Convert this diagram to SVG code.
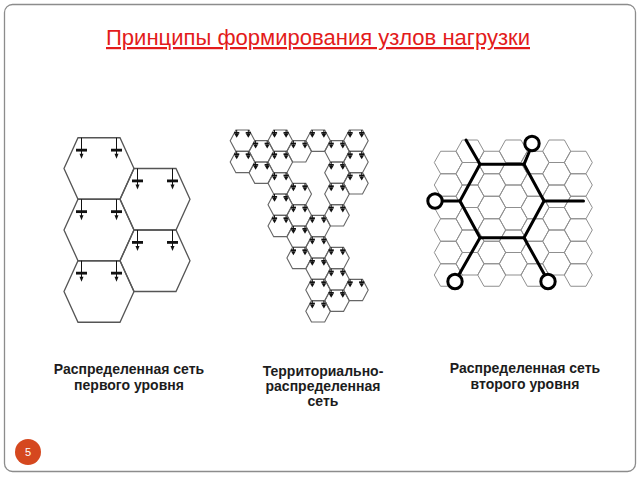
<svg xmlns="http://www.w3.org/2000/svg" xmlns:xlink="http://www.w3.org/1999/xlink" width="640" height="480" viewBox="0 0 640 480">
<style>
.frame{fill:#fff;stroke:#8c8c8c;stroke-width:1.3}
.hL{fill:none;stroke:#555;stroke-width:1.3}
.hM{fill:none;stroke:#666;stroke-width:1.1}
.hR{fill:none;stroke:#8f8f8f;stroke-width:1}
.sym line{stroke:#111;stroke-width:1}
.sym rect,.sym polygon{fill:#111}
.big{fill:none;stroke:#000;stroke-width:3;stroke-linejoin:round;stroke-linecap:round}
.ring{fill:#fff;stroke:#000;stroke-width:3}
.title{font-family:"Liberation Sans",Arial,sans-serif;font-size:22px;fill:#e31b1b;text-decoration:underline}
.lbl{font-family:"Liberation Sans",Arial,sans-serif;font-size:14px;font-weight:bold;fill:#1c1c1c;text-anchor:middle}
</style>
<defs>
<polygon id="hexL" class="hL" points="-21,-30.75 21,-30.75 35,0 21,30.75 -21,30.75 -35,0"/>
<g id="symL" class="sym"><line x1="0" y1="0" x2="0" y2="17"/><rect x="-5.5" y="11" width="11" height="2.8"/><polygon points="-2,16 2,16 0,21"/></g>
<g id="cellL"><use href="#hexL"/><use href="#symL" x="-17.5" y="-30.75"/><use href="#symL" x="17.5" y="-30.75"/></g>
<polygon id="hexM" class="hM" points="-6.6,-10.67 6.6,-10.67 12.3,0 6.6,10.67 -6.6,10.67 -12.3,0"/>
<g id="symM" class="sym"><line x1="0" y1="0" x2="0" y2="4"/><rect x="-2.6" y="2" width="5.2" height="1.7"/><polygon points="-2.4,3.8 2.4,3.8 0,7.8"/></g>
<g id="cellM"><use href="#hexM"/><use href="#symM" x="-5.8" y="-10.67"/><use href="#symM" x="5.8" y="-10.67"/></g>
<polygon id="hexR" class="hR" points="-7.7,-11.25 7.7,-11.25 14,0 7.7,11.25 -7.7,11.25 -14,0"/>
</defs>
<rect class="frame" x="4.5" y="4.5" width="631" height="467" rx="8"/>
<text class="title" x="318" y="45" textLength="424" lengthAdjust="spacingAndGlyphs" text-anchor="middle">Принципы формирования узлов нагрузки</text>

<g id="net1">
<use id="n1a" href="#cellL" x="99" y="168.5"/>
<use id="n1b" href="#cellL" x="155" y="199.25"/>
<use id="n1c" href="#cellL" x="99" y="230"/>
<use id="n1d" href="#cellL" x="155" y="260.75"/>
<use id="n1e" href="#cellL" x="99" y="291.5"/>
</g>

<g id="net2">
<use href="#cellM" x="242.5" y="140.67"/><use href="#cellM" x="242.5" y="162"/>
<use href="#cellM" x="261.4" y="151.33"/><use href="#cellM" x="261.4" y="172.67"/>
<use href="#cellM" x="280.3" y="140.67"/><use href="#cellM" x="280.3" y="162"/><use href="#cellM" x="280.3" y="183.33"/><use href="#cellM" x="280.3" y="204.67"/><use href="#cellM" x="280.3" y="226"/>
<use href="#cellM" x="299.2" y="151.33"/><use href="#cellM" x="299.2" y="194"/><use href="#cellM" x="299.2" y="215.33"/><use href="#cellM" x="299.2" y="236.67"/><use href="#cellM" x="299.2" y="258"/>
<use href="#cellM" x="318.1" y="140.67"/><use href="#cellM" x="318.1" y="226"/><use href="#cellM" x="318.1" y="247.33"/><use href="#cellM" x="318.1" y="268.67"/><use href="#cellM" x="318.1" y="290"/><use href="#cellM" x="318.1" y="311.33"/>
<use href="#cellM" x="337" y="151.33"/><use href="#cellM" x="337" y="172.67"/><use href="#cellM" x="337" y="194"/><use href="#cellM" x="337" y="215.33"/><use href="#cellM" x="337" y="258"/><use href="#cellM" x="337" y="279.33"/><use href="#cellM" x="337" y="300.67"/>
<use href="#cellM" x="355.9" y="140.67"/><use href="#cellM" x="355.9" y="162"/><use href="#cellM" x="355.9" y="183.33"/><use href="#cellM" x="355.9" y="290"/>
</g>

<g id="net3">
<g id="grid3">
<use href="#hexR" x="448.3" y="162.5"/><use href="#hexR" x="448.3" y="185"/><use href="#hexR" x="448.3" y="207.5"/><use href="#hexR" x="448.3" y="230"/><use href="#hexR" x="448.3" y="252.5"/><use href="#hexR" x="448.3" y="275"/>
<use href="#hexR" x="470" y="151.25"/><use href="#hexR" x="470" y="173.75"/><use href="#hexR" x="470" y="196.25"/><use href="#hexR" x="470" y="218.75"/><use href="#hexR" x="470" y="241.25"/><use href="#hexR" x="470" y="263.75"/>
<use href="#hexR" x="491.7" y="162.5"/><use href="#hexR" x="491.7" y="185"/><use href="#hexR" x="491.7" y="207.5"/><use href="#hexR" x="491.7" y="230"/><use href="#hexR" x="491.7" y="252.5"/><use href="#hexR" x="491.7" y="275"/>
<use href="#hexR" x="513.3" y="151.25"/><use href="#hexR" x="513.3" y="173.75"/><use href="#hexR" x="513.3" y="196.25"/><use href="#hexR" x="513.3" y="218.75"/><use href="#hexR" x="513.3" y="241.25"/><use href="#hexR" x="513.3" y="263.75"/>
<use href="#hexR" x="535" y="162.5"/><use href="#hexR" x="535" y="185"/><use href="#hexR" x="535" y="207.5"/><use href="#hexR" x="535" y="230"/><use href="#hexR" x="535" y="252.5"/><use href="#hexR" x="535" y="275"/>
<use href="#hexR" x="556.7" y="151.25"/><use href="#hexR" x="556.7" y="173.75"/><use href="#hexR" x="556.7" y="196.25"/><use href="#hexR" x="556.7" y="218.75"/><use href="#hexR" x="556.7" y="241.25"/><use href="#hexR" x="556.7" y="263.75"/>
<use href="#hexR" x="578.3" y="162.5"/><use href="#hexR" x="578.3" y="185"/><use href="#hexR" x="578.3" y="207.5"/><use href="#hexR" x="578.3" y="230"/><use href="#hexR" x="578.3" y="252.5"/><use href="#hexR" x="578.3" y="275"/>
</g>
<g id="connectors">
<polygon class="big" points="460,201 480,164.3 524,164.3 544,201 524,237.7 480,237.7"/>
<line class="big" x1="480" y1="164.3" x2="466" y2="140"/>
<line class="big" x1="524" y1="164.3" x2="530" y2="150"/>
<line class="big" x1="460" y1="201" x2="442" y2="201"/>
<line class="big" x1="544" y1="201" x2="583.5" y2="201"/>
<line class="big" x1="480" y1="237.7" x2="458.5" y2="275.5"/>
<line class="big" x1="524" y1="237.7" x2="545" y2="275.5"/>
</g>
<circle id="c1" class="ring" cx="532" cy="143.5" r="7.2"/>
<circle id="c2" class="ring" cx="435" cy="201" r="7.2"/>
<circle id="c3" class="ring" cx="455" cy="281.5" r="7.2"/>
<circle id="c4" class="ring" cx="548" cy="281.5" r="7.2"/>
</g>

<g id="label1"><text class="lbl" x="129" y="374">Распределенная сеть</text><text class="lbl" x="129" y="390">первого уровня</text></g>
<g id="label2"><text class="lbl" x="323" y="376">Территориально-</text><text class="lbl" x="323" y="391">распределенная</text><text class="lbl" x="323" y="406">сеть</text></g>
<g id="label3"><text class="lbl" x="525" y="373">Распределенная сеть</text><text class="lbl" x="525" y="389">второго уровня</text></g>

<g id="badge"><circle cx="28" cy="452" r="13" fill="#d5481f"/><text x="28" y="456" font-family="'Liberation Sans',Arial,sans-serif" font-size="11" fill="#fff" text-anchor="middle">5</text></g>
</svg>
